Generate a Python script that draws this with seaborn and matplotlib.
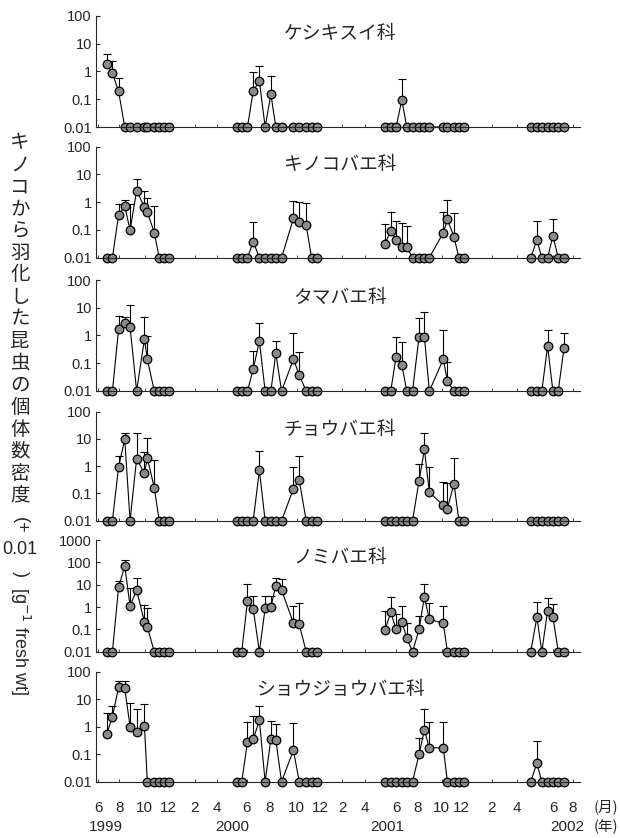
import numpy as np
import pandas as pd
import matplotlib
matplotlib.use("Agg")
import matplotlib.pyplot as plt
import seaborn as sns

# Sampling dates (four seasons, 1999-2002)
sample_dates = [
    "1999-06-22", "1999-07-06", "1999-07-21", "1999-08-05", "1999-08-18", "1999-09-03",
    "1999-09-22", "1999-09-29", "1999-10-16", "1999-10-28", "1999-11-09", "1999-11-21",
    "2000-05-04", "2000-05-16", "2000-05-30", "2000-06-13", "2000-06-28", "2000-07-12",
    "2000-07-26", "2000-08-07", "2000-08-21", "2000-09-19", "2000-10-03", "2000-10-20",
    "2000-11-02", "2000-11-15",
    "2001-04-30", "2001-05-14", "2001-05-27", "2001-06-10", "2001-06-22", "2001-07-06",
    "2001-07-22", "2001-08-04", "2001-08-16", "2001-09-19", "2001-09-29", "2001-10-15",
    "2001-10-27", "2001-11-08",
    "2002-04-20", "2002-05-05", "2002-05-17", "2002-05-31", "2002-06-13", "2002-06-26",
    "2002-07-10",
]

families = ["ケシキスイ科", "キノコバエ科", "タマバエ科", "チョウバエ科", "ノミバエ科", "ショウジョウバエ科"]

# Mean density (g-1 fresh wt) and SD for each family, season by season
keshikisui_mean = [1.8, 0.85, 0.18, 0, 0, 0, 0, 0, 0, 0, 0, 0,
                   0, 0, 0, 0.19, 0.44, 0, 0.14, 0, 0, 0, 0, 0, 0, 0,
                   0, 0, 0, 0.084, 0, 0, 0, 0, 0, 0, 0, 0, 0, 0,
                   0, 0, 0, 0, 0, 0, 0]
keshikisui_sd = [2.4, 1.5, 0.38, 0, 0, 0, 0, 0, 0, 0, 0, 0,
                 0, 0, 0, 0.78, 1.05, 0, 0.54, 0, 0, 0, 0, 0, 0, 0,
                 0, 0, 0, 0.45, 0, 0, 0, 0, 0, 0, 0, 0, 0, 0,
                 0, 0, 0, 0, 0, 0, 0]

kinokobae_mean = [0, 0, 0.34, 0.72, 0.088, 2.6, 0.65, 0.44, 0.07, 0, 0, 0,
                  0, 0, 0, 0.028, 0, 0, 0, 0, 0, 0.25, 0.19, 0.14, 0, 0,
                  0.021, 0.084, 0.034, 0.014, 0.014, 0, 0, 0, 0, 0.07, 0.23, 0.047, 0, 0,
                  0, 0.034, 0, 0, 0.05, 0, 0]
kinokobae_sd = [0, 0, 0.5, 0.5, 0.77, 4.3, 1.9, 1.0, 0.65, 0, 0, 0,
                0, 0, 0, 0.16, 0, 0, 0, 0, 0, 0.8, 0.85, 0.8, 0, 0,
                0.13, 0.36, 0.16, 0.16, 0.11, 0, 0, 0, 0, 0.37, 0.95, 0.34, 0, 0,
                0, 0.17, 0, 0, 0.18, 0, 0]

tamabae_mean = [0, 0, 1.65, 2.7, 2.0, 0, 0.74, 0.13, 0, 0, 0, 0,
                0, 0, 0, 0.052, 0.62, 0, 0, 0.22, 0, 0.13, 0.028, 0, 0, 0,
                0, 0, 0.16, 0.077, 0, 0, 0.9, 0.9, 0, 0.13, 0.012, 0, 0, 0,
                0, 0, 0, 0.41, 0, 0, 0.34]
tamabae_sd = [0, 0, 3.5, 1.8, 11, 0, 4.0, 0.84, 0, 0, 0, 0,
              0, 0, 0, 0.22, 2.3, 0, 0, 0.4, 0, 1.05, 0.21, 0, 0, 0,
              0, 0, 0.69, 0.51, 0, 0, 3.5, 6.0, 0, 1.45, 0.09, 0, 0, 0,
              0, 0, 0, 1.1, 0, 0, 0.85]

chobae_mean = [0, 0, 0.92, 9.8, 0, 1.9, 0.53, 2.0, 0.15, 0, 0, 0,
               0, 0, 0, 0, 0.7, 0, 0, 0, 0, 0.14, 0.3, 0, 0, 0,
               0, 0, 0, 0, 0, 0, 0.28, 4.1, 0.1, 0.027, 0.018, 0.22, 0, 0,
               0, 0, 0, 0, 0, 0, 0]
chobae_sd = [0, 0, 1.4, 6.2, 0, 14, 2.8, 9.0, 1.6, 0, 0, 0,
             0, 0, 0, 0, 2.8, 0, 0, 0, 0, 0.78, 2.0, 0, 0, 0,
             0, 0, 0, 0, 0, 0, 0.94, 13, 0.85, 0.22, 0.21, 1.7, 0, 0,
             0, 0, 0, 0, 0, 0, 0]

nomibae_mean = [0, 0, 7.6, 69, 1.1, 5.8, 0.2, 0.12, 0, 0, 0, 0,
                0, 0, 1.85, 0.8, 0, 0.87, 1.0, 9.0, 5.8, 0.18, 0.16, 0, 0, 0,
                0.084, 0.57, 0.09, 0.21, 0.03, 0, 0.09, 2.9, 0.27, 0.18, 0, 0, 0, 0,
                0, 0.34, 0, 0.65, 0.36, 0, 0]
nomibae_sd = [0, 0, 7.4, 57, 6.2, 14, 1.0, 0.75, 0, 0, 0, 0,
              0, 0, 8.8, 2.3, 0, 2.2, 2.1, 11, 12, 0.9, 1.4, 0, 0, 0,
              0.57, 2.1, 0.39, 0.93, 0.15, 0, 0.3, 7.8, 1.3, 0.96, 0, 0, 0, 0,
              0, 1.4, 0, 2.0, 1.0, 0, 0]

shojobae_mean = [0.53, 2.3, 27, 25, 1.0, 0.65, 1.05, 0, 0, 0, 0, 0,
                 0, 0, 0.27, 0.34, 1.7, 0, 0.35, 0.32, 0, 0.13, 0, 0, 0, 0,
                 0, 0, 0, 0, 0, 0, 0.09, 0.75, 0.16, 0.16, 0, 0, 0, 0,
                 0, 0.037, 0, 0, 0, 0, 0]
shojobae_sd = [2.6, 3.5, 20, 22, 6.1, 3.7, 5.6, 0, 0, 0, 0, 0,
               0, 0, 1.2, 2.0, 4.1, 0, 1.3, 0.93, 0, 1.2, 0, 0, 0, 0,
               0, 0, 0, 0, 0, 0, 0.28, 3.6, 1.3, 1.3, 0, 0, 0, 0,
               0, 0.26, 0, 0, 0, 0, 0]

family_means = [keshikisui_mean, kinokobae_mean, tamabae_mean,
                chobae_mean, nomibae_mean, shojobae_mean]
family_sds = [keshikisui_sd, kinokobae_sd, tamabae_sd,
              chobae_sd, nomibae_sd, shojobae_sd]
y_tops = [100, 100, 100, 100, 1000, 100]

# Month labels along the time axis
month_tick_dates = ["1999-06-01", "1999-07-23", "1999-09-23", "1999-11-19",
                    "2000-01-23", "2000-03-16", "2000-05-28", "2000-07-22",
                    "2000-09-27", "2000-11-23", "2001-01-16", "2001-03-12",
                    "2001-05-28", "2001-07-18", "2001-09-15", "2001-11-03",
                    "2002-01-15", "2002-03-17", "2002-06-14", "2002-08-01"]
month_tick_labels = ["6", "8", "10", "12", "2", "4", "6", "8", "10", "12",
                     "2", "4", "6", "8", "10", "12", "2", "4", "6", "8"]
year_labels = ["1999", "2000", "2001", "2002"]
year_label_dates = ["1999-06-20", "2000-04-22", "2001-05-06", "2002-07-17"]

OFFSET = 0.01

sns.set_theme(style="ticks")
plt.rcParams["font.family"] = ["Liberation Sans", "Noto Sans CJK JP", "DejaVu Sans"]
plt.rcParams["axes.linewidth"] = 0.8

fig = plt.figure(figsize=(6.2, 8.38), dpi=100)
W, H = 620.0, 838.0
left_px, right_px = 96.0, 580.0
panel_px = [(15.7, 127.0), (146.7, 257.7), (280.0, 391.0),
            (411.7, 520.7), (540.0, 651.7), (671.7, 781.7)]

dates = pd.to_datetime(sample_dates)
x_lo, x_hi = pd.Timestamp("1999-05-27"), pd.Timestamp("2002-08-18")
ticks = pd.to_datetime(month_tick_dates)

axes = []
for i, (name, mean, sd, ytop) in enumerate(zip(families, family_means, family_sds, y_tops)):
    top, bot = panel_px[i]
    ax = fig.add_axes([left_px / W, 1 - bot / H, (right_px - left_px) / W, (bot - top) / H])
    axes.append(ax)

    df = pd.DataFrame({"date": dates,
                       "density": np.asarray(mean, dtype=float),
                       "sd": np.asarray(sd, dtype=float)})
    df["value"] = df["density"] + OFFSET
    df["season"] = df["date"].dt.year

    # upper SD bars only
    eb = df[df["sd"] > 0]
    ax.errorbar(eb["date"], eb["value"], yerr=[np.zeros(len(eb)), eb["sd"].values],
                fmt="none", ecolor="black", elinewidth=0.8, capsize=3, capthick=0.8,
                zorder=1.5)

    sns.lineplot(data=df, x="date", y="value", units="season", estimator=None,
                 color="black", linewidth=0.8, marker="o", markersize=6.2,
                 markerfacecolor="#8a8a8a", markeredgecolor="black",
                 markeredgewidth=0.9, clip_on=False, legend=False, ax=ax, zorder=2)

    ax.set_yscale("log")
    ax.set_ylim(0.01, ytop)
    decades = [10.0 ** k for k in range(-2, int(np.log10(ytop)) + 1)]
    ax.set_yticks(decades)
    ax.set_yticklabels([("%g" % d) for d in decades])
    ax.yaxis.set_minor_locator(matplotlib.ticker.NullLocator())
    ax.set_xlim(x_lo, x_hi)
    ax.set_xticks(ticks)
    ax.tick_params(axis="y", direction="in", length=3, width=0.8, labelsize=10.5, pad=3)
    ax.tick_params(axis="x", direction="in", length=2.5, width=0.6)
    if i < len(families) - 1:
        ax.set_xticklabels([])
    else:
        ax.set_xticklabels(month_tick_labels, fontsize=11)
        ax.tick_params(axis="x", pad=14)
    for s in ("top", "right"):
        ax.spines[s].set_visible(False)
    ax.set_xlabel("")
    ax.set_ylabel("")
    ax.text(0.504, 0.84, name, transform=ax.transAxes, ha="center", va="center",
            fontsize=13.5, family=["Noto Sans CJK JP"])

bottom_ax = axes[-1]
trans = matplotlib.transforms.blended_transform_factory(bottom_ax.transData, fig.transFigure)
for lab, d in zip(year_labels, year_label_dates):
    bottom_ax.text(pd.Timestamp(d), 1 - 827 / H, lab, transform=trans,
                   ha="center", va="center", fontsize=11)
fig.text(606 / W, 1 - 806.5 / H, "(月)", ha="center", va="center", fontsize=10.5,
         family=["Noto Sans CJK JP"])
fig.text(606 / W, 1 - 827 / H, "(年)", ha="center", va="center", fontsize=10.5,
         family=["Noto Sans CJK JP"])

# Vertical y-axis title: upright kana/kanji stacked, then the unit rotated
ylab_chars = "キノコから羽化した昆虫の個体数密度"
x_lab = 20 / W
y0, step = 143.0, 22.0
for k, ch in enumerate(ylab_chars):
    fig.text(x_lab, 1 - (y0 + k * step) / H, ch, ha="center", va="center",
             fontsize=14, family=["Noto Sans CJK JP"])
y_after = y0 + len(ylab_chars) * step
fig.text(x_lab, 1 - (y_after + 8) / H, "(+", rotation=-90, ha="center", va="center",
         fontsize=13)
fig.text(x_lab, 1 - (y_after + 33) / H, "0.01", ha="center", va="center", fontsize=13)
fig.text(x_lab, 1 - (y_after + 57) / H, ")", rotation=-90, ha="center", va="center",
         fontsize=13)
fig.text(x_lab, 1 - (y_after + 70) / H, "[g$^{-1}$ fresh wt]", rotation=-90,
         ha="center", va="top", fontsize=13)

fig.savefig("out.png", dpi=100)
